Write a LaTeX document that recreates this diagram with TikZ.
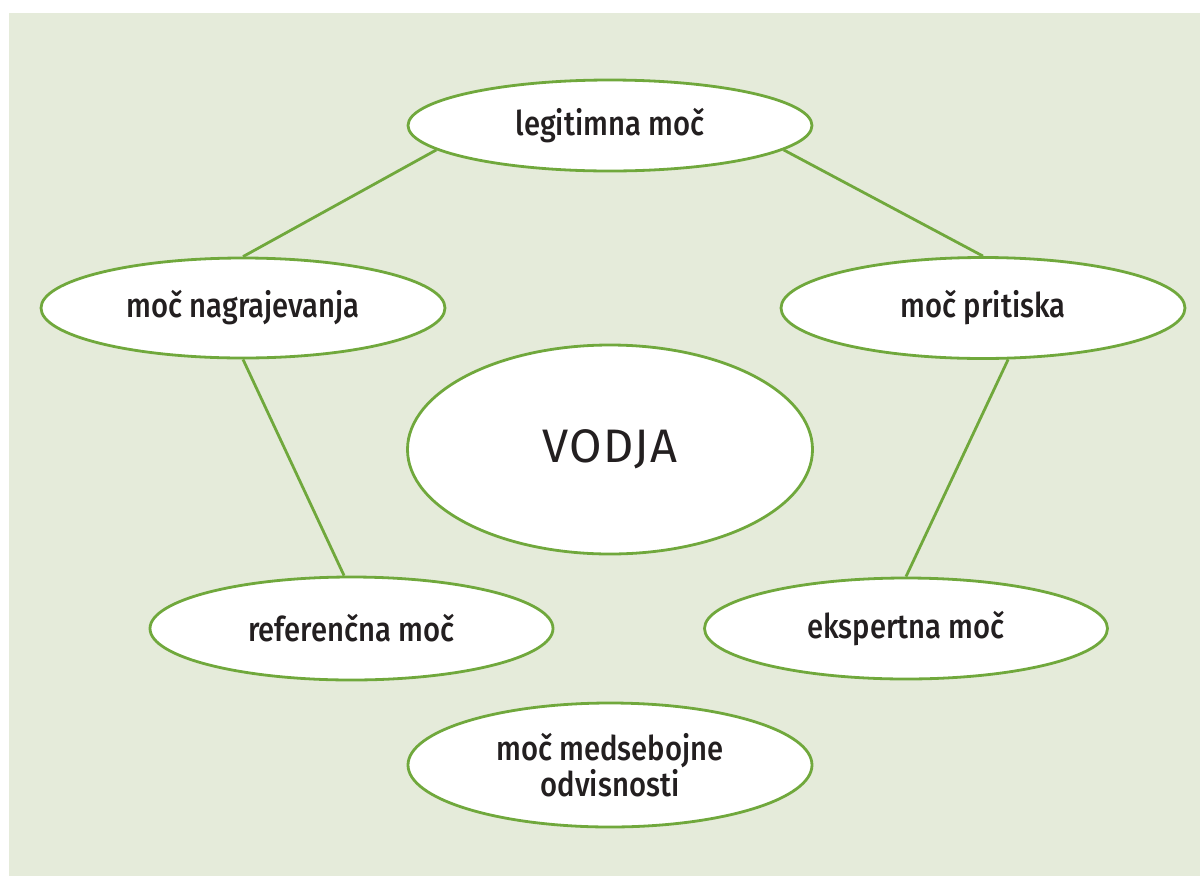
\documentclass[tikz,border=0pt]{standalone}
\usepackage{fontspec}
\setmainfont{Fira Sans Medium}[FakeStretch=0.86]
\newfontfamily\vodjafont{Fira Sans}[LetterSpace=3]
\usetikzlibrary{shapes.geometric}
\definecolor{bggreen}{HTML}{E5EBDA}
\definecolor{linegreen}{HTML}{70A83C}
\definecolor{txt}{HTML}{231F20}
\tikzset{
  oval/.style={ellipse, draw=linegreen, line width=2.8pt, fill=white, inner sep=0pt,
    text=txt, font=\fontsize{34}{33}\selectfont, align=center},
  conn/.style={draw=linegreen, line width=2.8pt}
}
\begin{document}
\begin{tikzpicture}[x=1pt,y=-1pt]
\useasboundingbox (0,0) rectangle (1200,876);
\fill[white] (0,0) rectangle (1200,876);
\fill[bggreen] (9,13) rectangle (1200,876);
\node[oval, minimum width=404pt, minimum height=91pt] (legit) at (610,125.5) {legitimna moč};
\node[oval, minimum width=404pt, minimum height=100pt] (nagr) at (243,308) {moč nagrajevanja};
\node[oval, minimum width=404pt, minimum height=101pt] (prit) at (983,308) {moč pritiska};
\node[oval, minimum width=405pt, minimum height=209pt, font=\vodjafont\fontsize{47}{50}\selectfont] (vodja) at (610,449.5) {VODJA};
\node[oval, minimum width=403pt, minimum height=103pt] (ref) at (351.5,628.5) {referenčna moč};
\node[oval, minimum width=403pt, minimum height=101pt] (eksp) at (906,628.5) {ekspertna moč};
\node[oval, minimum width=404pt, minimum height=124pt] (med) at (610,765) {moč medsebojne\\odvisnosti};
\draw[conn] (legit.188.7) -- (nagr.north);
\draw[conn] (legit.352.2) -- (prit.north);
\draw[conn] (nagr.south) -- (ref.98.3);
\draw[conn] (prit.296.1) -- (eksp.north);
\end{tikzpicture}
\end{document}
